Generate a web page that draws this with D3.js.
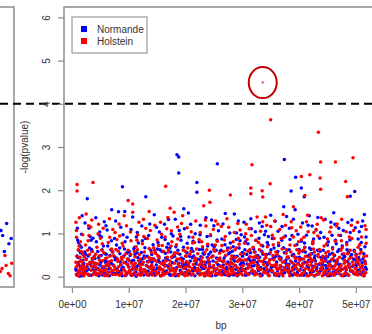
<!DOCTYPE html>
<html>
<head>
<meta charset="utf-8">
<script src="https://cdn.jsdelivr.net/npm/d3@7"></script>
<style>
  html, body { margin: 0; padding: 0; background: #fff; }
  svg { display: block; }
  text { font-family: "Liberation Sans", Arial, Helvetica, sans-serif; fill: #333; }
</style>
</head>
<body>
<svg id="chart" width="372" height="334"></svg>
<script>
// Positions in Mb, -log10(p) values
const normande = [
  [0.8,0.05],[1.1,0.32],[1.3,0.12],[0.9,0.48],[1.6,0.22],[1.8,0.02],[1.2,0.61],[1.9,0.38],[0.7,0.18],[1.5,0.55],[1.8,1.41],[1.0,0.85],[1.4,0.72],[2.0,0.27],
  [2.7,1.80],[2.2,0.09],[2.5,0.41],[2.9,0.17],[3.1,0.66],[3.4,0.03],[3.6,0.35],[2.4,0.52],[3.8,0.24],[3.2,0.93],[2.6,0.14],[3.9,0.46],[3.0,1.12],[3.5,0.58],
  [4.1,0.07],[4.4,0.29],[4.7,0.44],[5.0,0.13],[5.3,0.62],[5.6,0.21],[5.9,0.37],[4.3,0.81],[4.9,1.03],[5.4,0.04],[5.8,0.53],[4.6,0.19],[5.1,0.33],[5.7,1.27],
  [6.1,0.26],[6.4,0.11],[6.7,0.49],[7.0,1.55],[7.3,0.06],[7.6,0.39],[7.9,0.17],[6.3,0.71],[6.9,0.31],[7.5,0.88],[6.6,0.02],[7.2,0.57],[7.8,0.43],[6.0,1.18],
  [8.2,1.50],[8.9,2.08],[9.3,1.51],[8.1,0.08],[8.5,0.34],[8.8,0.19],[9.1,0.47],[9.5,0.03],[9.8,0.28],[8.4,0.66],[9.0,0.97],[9.6,0.54],[8.7,0.15],[9.9,0.41],
  [10.2,0.12],[10.5,0.36],[10.8,0.05],[11.1,0.51],[11.4,0.23],[11.7,0.78],[12.0,0.31],[10.4,1.09],[11.0,0.18],[11.6,0.44],[10.9,0.64],[11.3,0.01],[11.9,0.27],[10.1,0.58],
  [13.0,1.85],[12.2,0.09],[12.5,0.42],[12.8,0.16],[13.3,0.35],[13.6,0.04],[13.9,0.61],[12.4,0.83],[13.1,0.26],[13.7,1.22],[12.7,0.48],[13.4,0.13],[12.1,0.38],[13.8,0.21],
  [14.1,0.33],[14.4,0.07],[14.7,0.55],[15.0,0.19],[15.3,0.46],[15.6,0.02],[15.9,0.29],[14.3,0.74],[14.9,1.14],[15.5,0.62],[14.6,0.14],[15.2,0.38],[15.8,0.91],[14.0,0.24],
  [16.2,0.11],[16.5,0.43],[16.8,0.25],[17.1,0.06],[17.4,0.57],[17.7,0.32],[16.4,0.86],[17.0,1.32],[17.6,0.17],[16.7,0.68],[17.3,0.03],[17.9,0.49],[16.1,0.36],[17.5,0.99],
  [18.5,2.82],[18.8,2.77],[18.8,2.40],[19.7,1.57],[18.1,0.14],[18.4,0.37],[18.7,0.05],[19.0,0.52],[19.3,0.23],[19.6,0.41],[19.9,0.09],[18.3,0.69],[19.2,0.84],[19.5,0.29],[18.9,1.07],
  [22.0,2.18],[22.0,1.95],[20.1,0.31],[20.4,0.12],[20.7,0.47],[21.0,0.04],[21.3,0.59],[21.6,0.21],[21.9,0.35],[20.3,0.77],[20.9,1.21],[21.5,0.16],[20.6,0.92],[21.2,0.44],
  [22.2,0.08],[22.5,0.39],[22.8,0.22],[23.1,0.54],[23.4,0.02],[23.7,0.33],[24.0,0.15],[22.4,0.81],[23.0,0.63],[23.6,1.36],[22.7,0.46],[23.3,0.19],[23.9,0.71],[22.9,0.27],
  [25.6,2.61],[24.2,0.34],[24.5,0.06],[24.8,0.48],[25.1,0.18],[25.4,0.61],[25.7,0.28],[26.0,0.11],[24.4,0.95],[25.0,1.18],[25.9,0.42],[24.7,0.73],[25.3,0.03],[24.1,0.52],
  [26.2,0.24],[26.5,0.09],[26.8,0.43],[27.1,0.17],[27.4,0.66],[27.7,0.31],[28.0,0.05],[26.4,0.87],[27.0,1.46],[27.6,0.53],[26.7,0.36],[27.3,0.12],[27.9,0.78],[26.1,0.58],
  [28.2,0.14],[28.5,0.47],[28.8,0.26],[29.1,0.02],[29.4,0.38],[29.7,0.19],[30.0,0.56],[28.4,0.69],[29.0,1.01],[29.6,0.83],[28.7,0.08],[29.3,1.29],[29.9,0.33],[28.3,0.41],
  [30.2,0.29],[30.5,0.04],[30.8,0.51],[31.1,0.22],[31.4,0.37],[31.7,0.13],[32.0,0.64],[30.4,0.92],[31.0,0.76],[31.6,1.11],[30.7,0.18],[31.3,0.45],[31.9,0.07],[30.1,0.33],
  [32.2,0.11],[32.5,0.44],[32.8,0.27],[33.1,0.06],[33.4,0.59],[33.7,0.35],[34.0,0.16],[32.4,0.84],[33.0,1.24],[33.6,0.71],[32.7,0.49],[33.3,0.02],[33.9,0.97],[32.1,0.38],
  [34.2,0.32],[34.5,0.09],[34.8,0.53],[35.1,0.21],[35.4,0.42],[35.7,0.04],[36.0,0.27],[34.4,0.79],[35.0,1.42],[35.6,0.66],[34.7,0.15],[35.3,0.88],[35.9,0.48],[34.1,1.05],
  [37.4,2.71],[36.2,0.13],[36.5,0.46],[36.8,0.24],[37.1,0.07],[37.4,0.55],[37.7,0.31],[38.0,0.18],[36.4,0.72],[37.0,1.16],[37.6,0.94],[36.7,0.39],[37.3,1.62],[37.9,0.61],
  [38.6,1.98],[39.4,2.30],[38.2,0.28],[38.5,0.05],[38.8,0.49],[39.1,0.17],[39.4,0.36],[39.7,0.11],[40.0,0.63],[38.4,0.86],[39.0,1.33],[39.6,0.74],[38.9,0.22],[39.3,1.55],[38.1,0.43],
  [40.4,2.05],[40.9,1.85],[40.2,0.16],[40.5,0.41],[40.8,0.03],[41.1,0.57],[41.4,0.25],[41.7,0.38],[42.0,0.09],[40.4,0.82],[41.0,0.68],[41.6,1.19],[40.7,0.31],[41.3,0.96],[41.9,0.52],
  [42.2,0.34],[42.5,0.12],[42.8,0.48],[43.1,0.21],[43.4,0.06],[43.7,0.59],[44.0,0.27],[42.4,0.77],[43.0,1.08],[43.6,0.89],[42.7,0.43],[43.3,1.37],[43.9,0.15],[42.1,0.63],
  [44.2,0.18],[44.5,0.45],[44.8,0.07],[45.1,0.33],[45.4,0.52],[45.7,0.24],[46.0,0.11],[44.4,0.91],[45.0,0.73],[45.6,1.26],[44.7,0.39],[45.3,0.02],[45.9,0.67],[44.1,0.29],
  [46.2,0.37],[46.5,0.14],[46.8,0.58],[47.1,0.26],[47.4,0.04],[47.7,0.42],[48.0,0.19],[46.4,0.84],[47.0,1.12],[47.6,0.71],[46.7,0.31],[47.3,0.95],[47.9,0.49],[46.1,1.48],
  [49.8,1.97],[49.0,1.86],[48.2,0.09],[48.5,0.35],[48.8,0.22],[49.1,0.47],[49.4,0.13],[49.7,0.61],[50.0,0.28],[48.4,0.79],[49.0,1.02],[49.6,0.41],[48.7,0.56],[49.3,1.31],[48.1,0.03],
  [50.2,0.17],[50.5,0.44],[50.8,0.06],[51.1,0.32],[51.4,0.53],[51.7,0.21],[50.4,0.87],[51.0,1.16],[51.6,0.69],[50.7,0.38],[51.3,0.11],[51.8,0.92],[50.1,0.26],[51.5,1.44],
  [0.75,0.15],[0.95,0.03],[1.05,0.44],[1.25,0.26],[1.45,0.09],[1.55,0.37],[1.65,0.68],[1.75,0.19],[1.95,0.51],[1.35,0.01],[1.15,0.79],
  [2.05,0.31],[2.25,0.57],[2.35,0.11],[2.65,0.23],[2.85,0.48],[3.05,0.04],[3.25,0.29],[3.45,0.63],[3.65,0.16],[3.85,0.07],[3.35,0.84],
  [4.05,0.42],[4.25,0.17],[4.55,0.58],[4.75,0.02],[4.95,0.27],[5.15,0.49],[5.35,0.21],[5.55,0.71],[5.75,0.09],[5.95,0.32],[4.85,0.96],
  [6.05,0.52],[6.25,0.03],[6.45,0.34],[6.55,0.19],[6.85,0.62],[7.05,0.11],[7.25,0.27],[7.45,0.46],[7.65,0.07],[7.85,0.73],[6.95,0.83],
  [8.05,0.39],[8.25,0.12],[8.45,0.53],[8.65,0.27],[8.85,0.02],[9.05,0.21],[9.25,0.64],[9.45,0.33],[9.65,0.08],[9.85,0.56],[9.35,0.81],
  [10.05,0.22],[10.25,0.49],[10.45,0.03],[10.65,0.17],[10.85,0.38],[11.05,0.68],[11.25,0.11],[11.45,0.55],[11.65,0.26],[11.85,0.05],[11.35,0.92],
  [12.05,0.18],[12.25,0.56],[12.45,0.29],[12.65,0.04],[12.85,0.67],[13.05,0.12],[13.25,0.47],[13.45,0.23],[13.65,0.37],[13.85,0.08],[12.95,0.88],
  [14.05,0.51],[14.25,0.16],[14.45,0.41],[14.65,0.03],[14.85,0.27],[15.05,0.64],[15.25,0.09],[15.45,0.33],[15.65,0.18],[15.85,0.58],[15.15,0.79],
  [16.05,0.07],[16.25,0.28],[16.45,0.54],[16.65,0.13],[16.85,0.39],[17.05,0.22],[17.25,0.66],[17.45,0.04],[17.65,0.44],[17.85,0.19],[16.95,0.76],
  [18.05,0.47],[18.25,0.02],[18.45,0.21],[18.65,0.61],[18.85,0.31],[19.05,0.14],[19.25,0.43],[19.45,0.06],[19.65,0.68],[19.85,0.25],[19.15,0.93],
  [20.05,0.18],[20.25,0.55],[20.45,0.26],[20.65,0.07],[20.85,0.36],[21.05,0.65],[21.25,0.13],[21.45,0.48],[21.65,0.02],[21.85,0.29],[21.35,0.82],
  [22.05,0.41],[22.25,0.14],[22.45,0.63],[22.65,0.06],[22.85,0.32],[23.05,0.19],[23.25,0.52],[23.45,0.27],[23.65,0.09],[23.85,0.45],[22.55,0.97],
  [24.05,0.11],[24.25,0.24],[24.45,0.57],[24.65,0.02],[24.85,0.36],[25.05,0.69],[25.25,0.15],[25.45,0.43],[25.65,0.07],[25.85,0.26],[25.55,0.85],
  [26.05,0.38],[26.25,0.61],[26.45,0.14],[26.65,0.27],[26.85,0.05],[27.05,0.49],[27.25,0.21],[27.45,0.34],[27.65,0.02],[27.85,0.56],[26.95,0.74],
  [28.05,0.22],[28.25,0.59],[28.45,0.04],[28.65,0.36],[28.85,0.17],[29.05,0.47],[29.25,0.09],[29.45,0.66],[29.65,0.28],[29.85,0.13],[28.95,0.86],
  [30.05,0.47],[30.25,0.16],[30.45,0.62],[30.65,0.03],[30.85,0.29],[31.05,0.41],[31.25,0.08],[31.45,0.55],[31.65,0.24],[31.85,0.36],[30.55,0.81],
  [32.05,0.25],[32.25,0.57],[32.45,0.07],[32.65,0.33],[32.85,0.14],[33.05,0.45],[33.25,0.21],[33.45,0.03],[33.65,0.52],[33.85,0.19],[32.95,0.89],
  [34.05,0.14],[34.25,0.51],[34.45,0.27],[34.65,0.03],[34.85,0.39],[35.05,0.62],[35.25,0.11],[35.45,0.24],[35.65,0.45],[35.85,0.06],[34.55,0.73],
  [36.05,0.34],[36.25,0.58],[36.45,0.02],[36.65,0.21],[36.85,0.43],[37.05,0.15],[37.25,0.67],[37.45,0.09],[37.65,0.38],[37.85,0.26],[36.95,0.84],
  [38.05,0.19],[38.25,0.62],[38.45,0.12],[38.65,0.34],[38.85,0.03],[39.05,0.51],[39.25,0.26],[39.45,0.44],[39.65,0.07],[39.85,0.31],[38.75,0.95],
  [40.05,0.45],[40.25,0.03],[40.45,0.23],[40.65,0.59],[40.85,0.14],[41.05,0.33],[41.25,0.07],[41.45,0.48],[41.65,0.21],[41.85,0.66],[40.95,0.78],
  [42.05,0.09],[42.25,0.53],[42.45,0.24],[42.65,0.02],[42.85,0.37],[43.05,0.16],[43.25,0.61],[43.45,0.28],[43.65,0.11],[43.85,0.44],[42.55,0.87],
  [44.05,0.41],[44.25,0.61],[44.45,0.05],[44.65,0.26],[44.85,0.19],[45.05,0.46],[45.25,0.13],[45.45,0.35],[45.65,0.03],[45.85,0.54],[45.15,0.81],
  [46.05,0.22],[46.25,0.49],[46.45,0.06],[46.65,0.35],[46.85,0.13],[47.05,0.63],[47.25,0.28],[47.45,0.17],[47.65,0.52],[47.85,0.02],[46.55,0.76],
  [48.05,0.46],[48.25,0.18],[48.45,0.62],[48.65,0.04],[48.85,0.29],[49.05,0.13],[49.25,0.51],[49.45,0.24],[49.65,0.07],[49.85,0.39],[48.95,0.85],
  [50.05,0.51],[50.25,0.06],[50.45,0.29],[50.65,0.14],[50.85,0.63],[51.05,0.22],[51.25,0.41],[51.45,0.02],[51.65,0.34],[51.85,0.17],[50.95,0.79],
  [0.95,1.12],[1.7,0.98],[2.3,1.24],[3.7,0.89],[4.2,1.36],[5.2,0.92],[6.2,1.08],[7.7,1.29],[8.6,1.14],[9.7,0.91],[10.7,1.38],[11.5,1.02],[12.3,1.17],
  [13.5,0.95],[14.5,1.43],[15.4,1.03],[16.3,1.21],[17.8,0.94],[18.2,1.33],[19.8,1.11],[20.5,1.47],[21.7,0.99],[22.6,1.19],[23.8,0.93],[24.6,1.31],[25.8,1.06],
  [26.6,1.22],[27.8,1.01],[28.6,1.45],[29.8,0.97],[30.3,1.26],[31.5,1.34],[32.3,1.04],[33.5,1.16],[34.6,0.93],[35.8,1.28],[36.3,1.05],[37.8,1.39],[38.3,1.12],
  [39.8,0.98],[40.6,1.24],[41.8,1.41],[42.3,1.17],[43.8,1.02],[44.6,1.33],[45.8,0.96],[46.3,1.21],[47.8,1.07],[48.6,1.25],[49.9,1.13],[50.6,1.04],[51.2,1.29]
];

const holstein = [
  [0.9,2.13],[0.9,1.98],[0.8,0.04],[1.0,0.27],[1.2,0.13],[1.4,0.45],[1.6,0.08],[1.8,0.36],[2.0,0.19],[1.1,0.62],[1.5,0.81],[1.9,0.53],[0.7,0.33],[0.8,1.07],[1.7,0.22],[0.7,1.26],[0.8,0.91],
  [3.7,2.18],[2.5,1.45],[2.2,0.16],[2.5,0.39],[2.8,0.06],[3.1,0.51],[3.4,0.24],[3.7,0.33],[4.0,0.11],[2.4,0.73],[3.0,0.95],[3.6,0.58],[2.7,0.28],[3.3,1.15],[3.9,0.44],[2.1,0.02],
  [4.2,0.21],[4.5,0.07],[4.8,0.48],[5.1,0.15],[5.4,0.37],[5.7,0.03],[6.0,0.26],[4.4,0.68],[5.0,0.89],[5.6,0.55],[4.7,1.21],[5.3,0.12],[5.9,0.42],[4.1,0.31],
  [6.2,0.09],[6.5,0.34],[6.8,0.18],[7.1,0.57],[7.4,0.25],[7.7,0.05],[8.0,0.41],[6.4,0.79],[7.0,0.64],[7.6,1.02],[6.7,0.47],[7.3,0.14],[7.9,0.86],[6.1,0.29],
  [9.9,1.76],[8.2,0.23],[8.5,0.06],[8.8,0.39],[9.1,0.17],[9.4,0.52],[9.7,0.28],[10.0,0.11],[8.4,0.94],[9.0,0.71],[9.6,1.18],[8.7,0.44],[9.3,0.02],[9.9,0.61],[8.1,0.35],
  [10.7,1.68],[10.7,1.49],[10.2,0.08],[10.5,0.31],[10.8,0.19],[11.1,0.46],[11.4,0.04],[11.7,0.37],[12.0,0.14],[10.4,0.83],[11.0,0.58],[11.6,0.97],[10.9,0.26],[11.3,0.69],[11.9,0.51],
  [13.6,1.51],[12.2,0.27],[12.5,0.11],[12.8,0.43],[13.1,0.06],[13.4,0.34],[13.7,0.21],[14.0,0.55],[12.4,0.76],[13.0,1.12],[13.6,0.65],[12.7,0.16],[13.3,0.88],[13.9,0.39],[12.1,0.03],
  [14.2,0.13],[14.5,0.38],[14.8,0.05],[15.1,0.49],[15.4,0.22],[15.7,0.31],[16.0,0.09],[14.4,0.67],[15.0,0.85],[15.6,1.26],[14.7,0.54],[15.3,0.17],[15.9,0.72],[14.1,0.42],
  [16.5,2.09],[17.3,1.58],[16.2,0.32],[16.5,0.07],[16.8,0.45],[17.1,0.18],[17.4,0.26],[17.7,0.03],[18.0,0.51],[16.4,0.92],[17.0,0.63],[17.6,0.81],[16.7,1.11],[17.3,0.36],[17.9,0.14],[16.1,0.59],
  [18.0,1.49],[18.2,0.12],[18.5,0.41],[18.8,0.24],[19.1,0.07],[19.4,0.36],[19.7,0.19],[20.0,0.48],[18.4,0.74],[19.0,0.98],[19.6,0.61],[18.7,0.29],[19.3,1.23],[19.9,0.02],[18.1,0.55],
  [20.2,0.35],[20.5,0.14],[20.8,0.52],[21.1,0.05],[21.4,0.28],[21.7,0.43],[22.0,0.17],[20.4,0.66],[21.0,1.04],[21.6,0.79],[20.7,0.23],[21.3,0.91],[21.9,0.38],[20.1,0.09],
  [23.2,1.64],[24.3,1.72],[24.2,2.00],[22.2,0.19],[22.5,0.04],[22.8,0.37],[23.1,0.25],[23.4,0.56],[23.7,0.11],[24.0,0.42],[22.4,0.86],[23.0,0.69],[23.6,1.17],[22.7,0.31],[23.3,0.02],[23.9,0.75],
  [24.2,0.28],[24.5,0.08],[24.8,0.47],[25.1,0.16],[25.4,0.33],[25.7,0.05],[26.0,0.54],[24.4,0.97],[25.0,0.63],[25.6,0.82],[24.7,0.21],[25.3,1.29],[25.9,0.38],[24.1,0.12],
  [27.9,1.89],[26.2,0.06],[26.5,0.35],[26.8,0.18],[27.1,0.49],[27.4,0.12],[27.7,0.27],[28.0,0.41],[26.4,0.72],[27.0,0.93],[27.6,1.14],[26.7,0.58],[27.3,0.03],[27.9,0.66],[26.1,0.24],
  [28.2,0.31],[28.5,0.09],[28.8,0.44],[29.1,0.21],[29.4,0.05],[29.7,0.52],[30.0,0.17],[28.4,0.81],[29.0,0.67],[29.6,1.08],[28.7,0.26],[29.3,0.89],[29.9,0.38],[28.1,0.13],
  [31.7,2.59],[31.5,2.05],[31.5,1.92],[30.2,0.15],[30.5,0.39],[30.8,0.07],[31.1,0.28],[31.4,0.46],[31.7,0.12],[32.0,0.34],[30.4,0.77],[31.0,0.59],[31.6,0.95],[30.7,1.21],[31.3,0.22],[31.9,0.68],
  [33.5,1.99],[33.6,1.84],[32.2,0.04],[32.5,0.27],[32.8,0.43],[33.1,0.16],[33.4,0.35],[33.7,0.09],[34.0,0.51],[32.4,0.84],[33.0,0.62],[33.6,1.27],[32.7,0.19],[33.3,0.73],[33.9,0.41],[32.1,0.57],
  [35.0,3.63],[34.9,2.15],[34.2,0.22],[34.5,0.06],[34.8,0.38],[35.1,0.14],[35.4,0.49],[35.7,0.27],[36.0,0.03],[34.4,0.69],[35.0,1.16],[35.6,0.88],[34.7,0.31],[35.3,0.96],[35.9,0.57],[34.1,1.38],
  [36.2,0.17],[36.5,0.42],[36.8,0.08],[37.1,0.33],[37.4,0.21],[37.7,0.54],[38.0,0.12],[36.4,0.78],[37.0,0.64],[37.6,1.19],[36.7,0.26],[37.3,0.91],[37.9,0.45],[36.1,0.04],
  [39.0,1.62],[38.2,0.09],[38.5,0.36],[38.8,0.19],[39.1,0.47],[39.4,0.05],[39.7,0.29],[40.0,0.41],[38.4,0.73],[39.0,0.92],[39.6,0.62],[38.7,1.13],[39.3,0.24],[39.9,0.81],[38.1,0.14],
  [40.4,2.32],[41.9,2.36],[41.0,1.88],[40.2,0.26],[40.5,0.07],[40.8,0.41],[41.1,0.18],[41.4,0.33],[41.7,0.02],[42.0,0.52],[40.4,0.86],[41.0,0.67],[41.6,1.04],[40.7,0.29],[41.3,1.27],[41.9,0.44],[40.1,0.59],
  [43.4,3.34],[43.8,2.65],[43.7,2.28],[43.8,2.02],[42.2,0.13],[42.5,0.38],[42.8,0.22],[43.1,0.05],[43.4,0.46],[43.7,0.31],[44.0,0.16],[42.4,0.76],[43.0,1.09],[43.6,0.63],[42.7,0.57],[43.3,0.94],[43.9,1.36],[42.1,0.27],
  [44.2,0.34],[44.5,0.11],[44.8,0.48],[45.1,0.24],[45.4,0.07],[45.7,0.39],[46.0,0.18],[44.4,0.71],[45.0,0.87],[45.6,1.14],[44.7,0.55],[45.3,0.29],[45.9,0.64],[44.1,0.02],
  [46.4,2.65],[46.2,0.08],[46.5,0.32],[46.8,0.17],[47.1,0.45],[47.4,0.26],[47.7,0.04],[48.0,0.38],[46.4,0.82],[47.0,0.96],[47.6,0.67],[46.7,1.22],[47.3,0.13],[47.9,0.53],[46.1,0.21],
  [49.5,2.75],[48.2,2.20],[48.5,1.85],[48.2,0.23],[48.5,0.06],[48.8,0.41],[49.1,0.15],[49.4,0.34],[49.7,0.09],[50.0,0.49],[48.4,0.74],[49.0,0.61],[49.6,1.07],[48.7,0.28],[49.3,0.88],[49.9,0.19],
  [50.2,0.11],[50.5,0.37],[50.8,0.21],[51.1,0.04],[51.4,0.46],[51.7,0.29],[50.4,0.68],[51.0,0.92],[51.6,1.18],[50.7,0.53],[51.3,0.16],[51.8,0.77],[50.1,0.33],[51.5,0.07],
  [0.75,0.22],[0.85,0.47],[1.05,0.11],[1.15,0.02],[1.35,0.35],[1.45,0.18],[1.65,0.58],[1.75,0.06],[1.85,0.29],[1.95,0.14],[1.25,0.71],
  [2.05,0.24],[2.15,0.46],[2.35,0.08],[2.55,0.19],[2.75,0.61],[2.95,0.03],[3.15,0.33],[3.35,0.15],[3.55,0.42],[3.75,0.05],[3.95,0.27],[2.85,0.83],
  [4.05,0.13],[4.15,0.52],[4.35,0.04],[4.55,0.29],[4.65,0.16],[4.85,0.38],[5.05,0.07],[5.25,0.61],[5.45,0.23],[5.65,0.14],[5.85,0.02],[5.35,0.76],
  [6.05,0.17],[6.15,0.43],[6.35,0.02],[6.55,0.26],[6.75,0.11],[6.95,0.37],[7.15,0.05],[7.35,0.49],[7.55,0.21],[7.75,0.63],[7.95,0.13],[6.65,0.91],
  [8.05,0.14],[8.15,0.59],[8.35,0.03],[8.55,0.27],[8.75,0.09],[8.95,0.45],[9.15,0.32],[9.35,0.13],[9.55,0.06],[9.75,0.41],[9.95,0.22],[8.85,0.77],
  [10.05,0.36],[10.15,0.15],[10.35,0.52],[10.55,0.03],[10.75,0.24],[10.95,0.09],[11.15,0.31],[11.35,0.17],[11.55,0.62],[11.75,0.06],[11.95,0.28],[11.45,0.84],
  [12.05,0.41],[12.15,0.19],[12.35,0.06],[12.55,0.33],[12.75,0.57],[12.95,0.12],[13.15,0.26],[13.35,0.03],[13.55,0.44],[13.75,0.09],[13.95,0.18],[12.65,0.93],
  [14.05,0.27],[14.15,0.04],[14.35,0.21],[14.55,0.61],[14.75,0.12],[14.95,0.35],[15.15,0.07],[15.35,0.43],[15.55,0.16],[15.75,0.02],[15.95,0.29],[15.25,0.72],
  [16.05,0.16],[16.15,0.04],[16.35,0.24],[16.55,0.36],[16.75,0.09],[16.95,0.57],[17.15,0.28],[17.35,0.13],[17.55,0.46],[17.75,0.19],[17.95,0.06],[17.45,0.71],
  [18.05,0.31],[18.15,0.06],[18.35,0.17],[18.55,0.54],[18.75,0.02],[18.95,0.41],[19.15,0.23],[19.35,0.11],[19.55,0.32],[19.75,0.05],[19.95,0.59],[18.65,0.87],
  [20.05,0.23],[20.15,0.47],[20.35,0.03],[20.55,0.31],[20.75,0.12],[20.95,0.58],[21.15,0.19],[21.35,0.06],[21.55,0.37],[21.75,0.14],[21.95,0.64],[21.25,0.78],
  [22.05,0.12],[22.15,0.53],[22.35,0.27],[22.55,0.15],[22.75,0.06],[22.95,0.44],[23.15,0.08],[23.35,0.34],[23.55,0.21],[23.75,0.62],[23.95,0.03],[22.85,0.81],
  [24.05,0.37],[24.15,0.19],[24.35,0.02],[24.55,0.45],[24.75,0.11],[24.95,0.26],[25.15,0.59],[25.35,0.07],[25.55,0.18],[25.75,0.41],[25.95,0.13],[25.25,0.73],
  [26.05,0.43],[26.15,0.15],[26.35,0.04],[26.55,0.22],[26.75,0.36],[26.95,0.11],[27.15,0.29],[27.35,0.61],[27.55,0.07],[27.75,0.18],[27.95,0.33],[26.85,0.85],
  [28.05,0.06],[28.15,0.48],[28.35,0.19],[28.55,0.27],[28.75,0.62],[28.95,0.03],[29.15,0.35],[29.35,0.14],[29.55,0.41],[29.75,0.08],[29.95,0.24],[29.45,0.75],
  [30.05,0.04],[30.15,0.26],[30.35,0.53],[30.55,0.11],[30.75,0.38],[30.95,0.19],[31.15,0.05],[31.35,0.63],[31.55,0.31],[31.75,0.16],[31.95,0.45],[30.85,0.86],
  [32.05,0.33],[32.15,0.12],[32.35,0.48],[32.55,0.06],[32.75,0.24],[32.95,0.37],[33.15,0.02],[33.35,0.17],[33.55,0.55],[33.75,0.28],[33.95,0.11],[32.85,0.79],
  [34.05,0.09],[34.15,0.44],[34.35,0.17],[34.55,0.32],[34.75,0.02],[34.95,0.56],[35.15,0.26],[35.35,0.13],[35.55,0.39],[35.75,0.07],[35.95,0.21],[35.45,0.74],
  [36.05,0.28],[36.15,0.52],[36.35,0.06],[36.55,0.19],[36.75,0.41],[36.95,0.13],[37.15,0.02],[37.35,0.35],[37.55,0.16],[37.75,0.63],[37.95,0.27],[36.85,0.88],
  [38.05,0.46],[38.15,0.23],[38.35,0.02],[38.55,0.57],[38.75,0.14],[38.95,0.31],[39.15,0.08],[39.35,0.42],[39.55,0.19],[39.75,0.03],[39.95,0.54],[39.25,0.72],
  [40.05,0.14],[40.15,0.38],[40.35,0.04],[40.55,0.23],[40.75,0.61],[40.95,0.11],[41.15,0.47],[41.35,0.02],[41.55,0.27],[41.75,0.16],[41.95,0.35],[40.85,0.91],
  [42.05,0.41],[42.15,0.05],[42.35,0.19],[42.55,0.64],[42.75,0.02],[42.95,0.29],[43.15,0.13],[43.35,0.52],[43.55,0.07],[43.75,0.18],[43.95,0.39],[42.45,0.82],
  [44.05,0.23],[44.15,0.47],[44.35,0.08],[44.55,0.36],[44.75,0.13],[44.95,0.02],[45.15,0.58],[45.35,0.17],[45.55,0.26],[45.75,0.05],[45.95,0.42],[44.85,0.76],
  [46.05,0.51],[46.15,0.03],[46.35,0.26],[46.55,0.12],[46.75,0.39],[46.95,0.07],[47.15,0.22],[47.35,0.61],[47.55,0.02],[47.75,0.17],[47.95,0.31],[47.45,0.83],
  [48.05,0.07],[48.15,0.34],[48.35,0.16],[48.55,0.53],[48.75,0.03],[48.95,0.21],[49.15,0.44],[49.35,0.12],[49.55,0.27],[49.75,0.58],[49.95,0.05],[48.85,0.92],
  [50.05,0.19],[50.15,0.42],[50.35,0.04],[50.55,0.28],[50.75,0.12],[50.95,0.57],[51.15,0.25],[51.35,0.02],[51.55,0.36],[51.75,0.09],[51.9,0.48],[50.65,0.74],
  [1.3,1.36],[1.9,0.97],[2.9,1.18],[3.5,1.31],[4.6,0.99],[5.5,1.12],[6.6,1.34],[7.2,1.09],[8.3,1.22],[9.2,1.41],[10.3,1.03],[11.8,1.26],[12.6,1.33],
  [13.8,1.07],[14.6,1.19],[15.8,0.98],[16.9,1.37],[17.5,1.06],[18.6,1.15],[19.5,1.41],[20.3,1.13],[21.8,1.29],[22.6,1.02],[23.5,1.31],[24.9,1.09],[25.7,1.21],
  [26.3,1.16],[27.3,1.34],[28.6,1.02],[29.2,1.23],[30.6,0.99],[31.2,1.11],[32.6,1.38],[33.2,1.05],[34.3,1.19],[35.7,1.29],[36.6,1.09],[37.2,1.44],[38.6,1.27],
  [39.5,1.06],[40.3,1.15],[41.5,1.42],[42.6,1.02],[43.2,1.21],[44.3,1.31],[45.4,1.03],[46.6,1.17],[47.5,1.33],[48.3,1.04],[49.2,1.19],[50.3,1.26],[51.8,1.09]
];

// Tail end of the neighbouring panel (same layout, shifted one panel to the left)
const prevNormande = [[52.6,1.23],[51.6,1.07],[51.9,0.95],[53.0,0.76],[52.2,0.58],[53.4,0.88]];
const prevHolstein = [[52.3,0.49],[51.8,0.19],[52.9,0.07],[53.5,0.31],[51.5,0.12],[53.2,0.02],[52.5,0.26]];

// Most significant SNP, circled
const topHit = [33.6, 4.49];

const threshold = 4;
const xTickValues = [0, 1e7, 2e7, 3e7, 4e7, 5e7];
const xTickLabels = ["0e+00", "1e+07", "2e+07", "3e+07", "4e+07", "5e+07"];
const yTickValues = [0, 1, 2, 3, 4, 5, 6];
const seriesNames = ["Normande", "Holstein"];
const seriesColors = ["#0000ff", "#ff0000"];

const svg = d3.select("#chart");
const W = 372;
const R = 1.75;

// Plot region
const box = { left: 64, right: 378, top: 7, bottom: 287 };
const x = d3.scaleLinear().domain([-1.4e6, 53.9e6]).range([box.left, box.right]);
const y = d3.scaleLinear().domain([-0.24, 6.24]).range([box.bottom, box.top]);
const panelShift = box.right - 14;
const xPrev = d3.scaleLinear().domain(x.domain()).range(x.range().map(r => r - panelShift));

svg.append("clipPath").attr("id", "plot-clip")
  .append("rect").attr("x", box.left).attr("y", box.top)
  .attr("width", box.right - box.left).attr("height", box.bottom - box.top);

const frameColor = "#8c8c8c";

// neighbouring panel frame
svg.append("path")
  .attr("d", `M0,${box.top}H14V${box.bottom}H0`)
  .attr("fill", "none").attr("stroke", frameColor).attr("stroke-width", 1.5);

svg.append("g").selectAll("circle").data(prevNormande).join("circle")
  .attr("cx", d => xPrev(d[0] * 1e6)).attr("cy", d => y(d[1])).attr("r", R)
  .attr("fill", seriesColors[0]);
svg.append("g").selectAll("circle").data(prevHolstein).join("circle")
  .attr("cx", d => xPrev(d[0] * 1e6)).attr("cy", d => y(d[1])).attr("r", R)
  .attr("fill", seriesColors[1]);

// main frame
svg.append("rect")
  .attr("x", box.left).attr("y", box.top)
  .attr("width", box.right - box.left).attr("height", box.bottom - box.top)
  .attr("fill", "none").attr("stroke", frameColor).attr("stroke-width", 1.5);

// points
const pts = svg.append("g").attr("clip-path", "url(#plot-clip)");
[normande, holstein].forEach((series, i) => {
  pts.append("g").selectAll("circle").data(series).join("circle")
    .attr("cx", d => x(d[0] * 1e6)).attr("cy", d => y(d[1])).attr("r", R)
    .attr("fill", seriesColors[i]);
});
pts.append("circle")
  .attr("cx", x(topHit[0] * 1e6)).attr("cy", y(topHit[1])).attr("r", 1.1)
  .attr("fill", "#e8204a");

// significance threshold
svg.append("line")
  .attr("x1", 0).attr("x2", W).attr("y1", y(threshold)).attr("y2", y(threshold))
  .attr("stroke", "#000").attr("stroke-width", 2).attr("stroke-dasharray", "8,5");

// annotation ring
svg.append("ellipse")
  .attr("cx", x(topHit[0] * 1e6)).attr("cy", y(topHit[1]))
  .attr("rx", 14).attr("ry", 15.5)
  .attr("fill", "none").attr("stroke", "#c00000").attr("stroke-width", 2);

// x axis
const xAxis = svg.append("g").attr("transform", `translate(0,${box.bottom})`)
  .call(d3.axisBottom(x).tickValues(xTickValues).tickFormat((d, i) => xTickLabels[i])
    .tickSize(6).tickSizeOuter(0).tickPadding(8));
xAxis.select(".domain").remove();
xAxis.selectAll(".tick line").attr("stroke", frameColor).attr("stroke-width", 1.2);
xAxis.selectAll(".tick text").attr("font-size", 10).attr("fill", "#333")
  .attr("font-family", "Liberation Sans, Arial, sans-serif");

// y axis (labels parallel to the axis)
const yAxis = svg.append("g").attr("transform", `translate(${box.left},0)`)
  .call(d3.axisLeft(y).tickValues(yTickValues).tickFormat(d3.format("d")).tickSize(6).tickSizeOuter(0));
yAxis.select(".domain").remove();
yAxis.selectAll(".tick line").attr("stroke", frameColor).attr("stroke-width", 1.2);
yAxis.selectAll(".tick text")
  .attr("font-size", 10).attr("fill", "#333")
  .attr("font-family", "Liberation Sans, Arial, sans-serif")
  .attr("x", null).attr("dy", null)
  .attr("text-anchor", "middle")
  .attr("transform", "translate(-14,0) rotate(-90)");

// axis titles
svg.append("text").attr("x", (box.left + box.right) / 2).attr("y", 329)
  .attr("text-anchor", "middle").attr("font-size", 10).text("bp");
svg.append("text")
  .attr("transform", `translate(28,${(box.top + box.bottom) / 2}) rotate(-90)`)
  .attr("text-anchor", "middle").attr("font-size", 10).text("-log(pvalue)");

// legend
const lg = svg.append("g").attr("transform", "translate(72,17)");
lg.append("rect").attr("width", 75).attr("height", 36)
  .attr("fill", "#fff").attr("stroke", "#999").attr("stroke-width", 1.2);
seriesNames.forEach((name, i) => {
  lg.append("rect").attr("x", 9).attr("y", 9 + i * 12).attr("width", 6).attr("height", 6)
    .attr("fill", seriesColors[i]);
  lg.append("text").attr("x", 25).attr("y", 16 + i * 12).attr("font-size", 10).text(name);
});
</script>
</body>
</html>
